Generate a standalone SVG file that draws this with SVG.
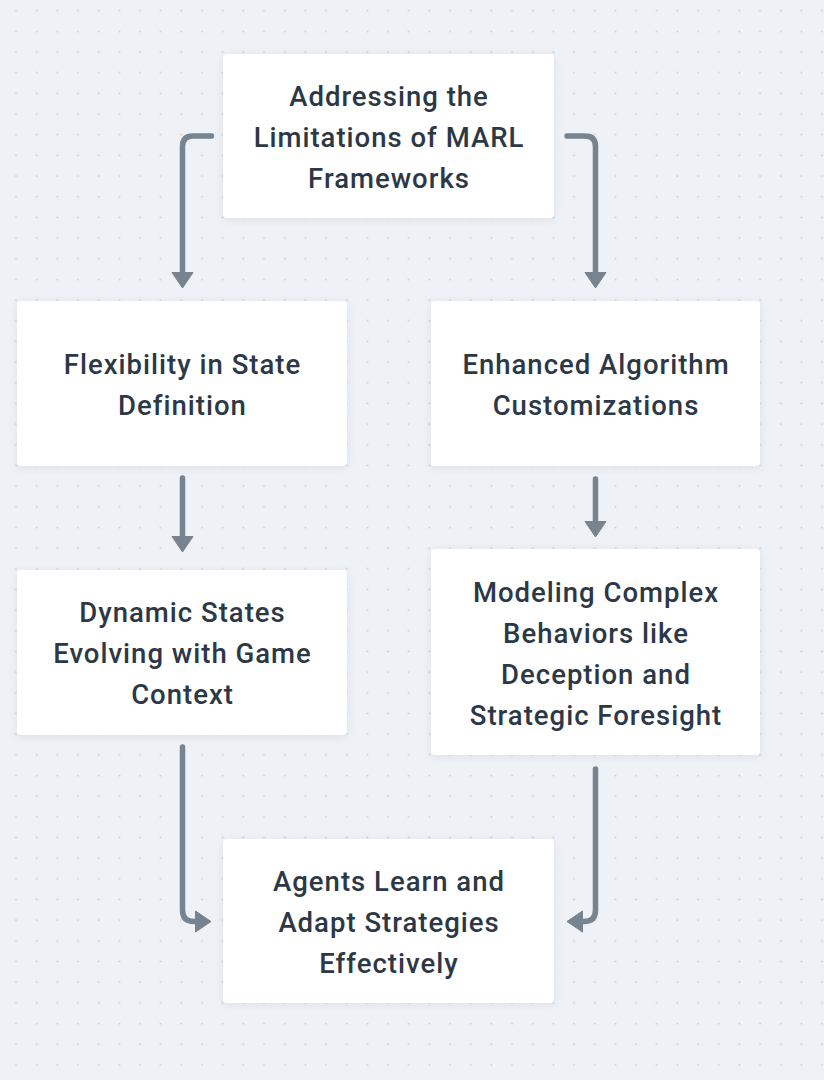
<svg xmlns="http://www.w3.org/2000/svg" width="824" height="1080" viewBox="0 0 824 1080">
<defs>
<pattern id="dots" x="5.67" y="0.37" width="20.67" height="20.67" patternUnits="userSpaceOnUse">
<circle cx="10.33" cy="10.33" r="1" fill="#c9ced8"/>
</pattern>
<filter id="shadow" x="-10%" y="-10%" width="120%" height="130%">
<feDropShadow dx="0" dy="2" stdDeviation="4" flood-color="#1e293b" flood-opacity="0.07"/>
</filter>
<marker id="arrow" markerUnits="userSpaceOnUse" markerWidth="18" markerHeight="24" refX="4" refY="11" orient="auto" viewBox="-1 -1 18 24">
<path d="M0.5,0.5 L16,11 L0.5,21.5 Z" fill="#77838f" stroke="#77838f" stroke-width="1" stroke-linejoin="round"/>
</marker>
</defs>
<style>
.node rect { fill: #ffffff; filter: url(#shadow); }
.node text { font-family: Roboto, "Liberation Sans", "Noto Sans", sans-serif; font-weight: 500; font-size: 27.5px; letter-spacing: 1px; fill: #2c3846; text-anchor: middle; }
.edge { fill: none; stroke: #77838f; stroke-width: 5.5; stroke-linecap: round; stroke-linejoin: round; marker-end: url(#arrow); }
</style>
<rect width="824" height="1080" fill="#eef1f5"/>
<rect width="824" height="1080" fill="url(#dots)"/>

<g id="connectors">
<path class="edge" d="M211.5,136 H193 Q182.5,136 182.5,146.5 V276"/>
<path class="edge" d="M567,136 H585 Q595.5,136 595.5,146.5 V276"/>
<path class="edge" d="M182.5,478 V540"/>
<path class="edge" d="M595.5,479 V525"/>
<path class="edge" d="M182.5,747 V910 Q182.5,921.5 194,921.5 H199"/>
<path class="edge" d="M595.5,769 V910 Q595.5,921.5 584,921.5 H579"/>
</g>

<g id="node-top" class="node">
<rect x="223" y="54" width="331" height="164" rx="4"/>
<text x="389" y="105.5">Addressing the</text>
<text x="389" y="146.5">Limitations of MARL</text>
<text x="389" y="187.5">Frameworks</text>
</g>
<g id="node-flex" class="node">
<rect x="17" y="301" width="330" height="165" rx="4"/>
<text x="182.5" y="373.5">Flexibility in State</text>
<text x="182.5" y="414.5">Definition</text>
</g>
<g id="node-enh" class="node">
<rect x="431" y="301" width="329" height="165" rx="4"/>
<text x="596" y="373.5">Enhanced Algorithm</text>
<text x="596" y="414.5">Customizations</text>
</g>
<g id="node-dyn" class="node">
<rect x="17" y="570" width="330" height="165" rx="4"/>
<text x="182.5" y="621.5">Dynamic States</text>
<text x="182.5" y="662.5">Evolving with Game</text>
<text x="182.5" y="703.5">Context</text>
</g>
<g id="node-model" class="node">
<rect x="431" y="549" width="329" height="206" rx="4"/>
<text x="596" y="601.5">Modeling Complex</text>
<text x="596" y="642.5">Behaviors like</text>
<text x="596" y="683.5">Deception and</text>
<text x="596" y="724.5">Strategic Foresight</text>
</g>
<g id="node-agents" class="node">
<rect x="223" y="839" width="331" height="164" rx="4"/>
<text x="389" y="890.5">Agents Learn and</text>
<text x="389" y="931.5">Adapt Strategies</text>
<text x="389" y="972.5">Effectively</text>
</g>
</svg>
